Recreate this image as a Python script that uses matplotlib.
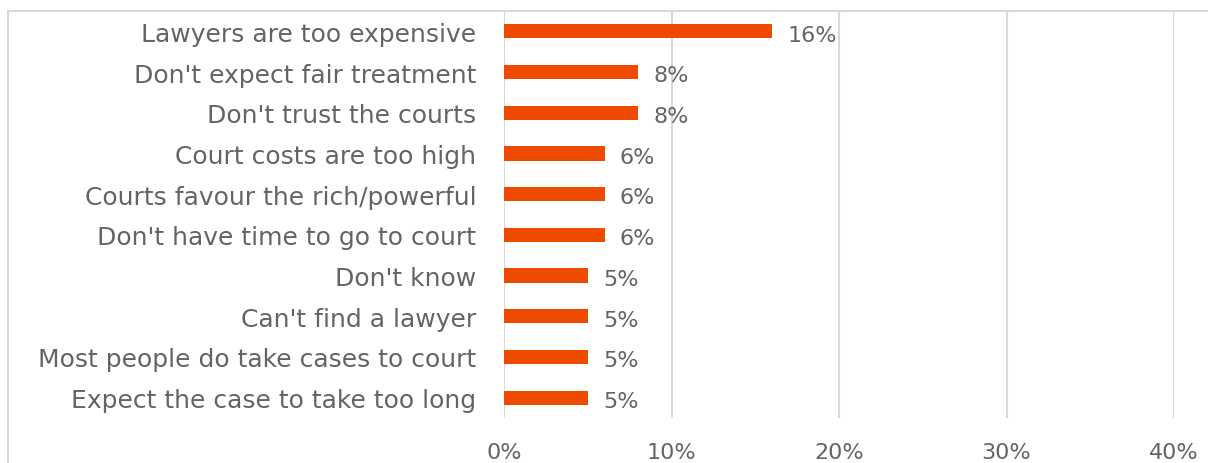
import matplotlib.pyplot as plt
from matplotlib.patches import Rectangle

plt.rcParams['font.family'] = ['DejaVu Sans']

# data (top to bottom)
categories = [
    "Lawyers are too expensive",
    "Don't expect fair treatment",
    "Don't trust the courts",
    "Court costs are too high",
    "Courts favour the rich/powerful",
    "Don't have time to go to court",
    "Don't know",
    "Can't find a lawyer",
    "Most people do take cases to court",
    "Expect the case to take too long",
]
values = [16, 8, 8, 6, 6, 6, 5, 5, 5, 5]
xticks = [0, 10, 20, 30, 40]
xtick_labels = ["0%", "10%", "20%", "30%", "40%"]

text_color = '#646464'
bar_color = '#EE4B00'
grid_color = '#D9D9D9'

fig = plt.figure(figsize=(12.08, 4.64), dpi=100)
ax = fig.add_axes([504 / 1208, 1 - 419 / 464, (1174 - 504) / 1208, (419 - 12) / 464])

# chart border (cropped box)
fig.patches.append(Rectangle((8 / 1208, -0.2), 1.2, 1.2 - 12 / 464,
                             transform=fig.transFigure, fill=False,
                             edgecolor=grid_color, linewidth=1.5, zorder=0))

y = list(range(len(categories)))
ax.barh(y, values, height=0.35, color=bar_color, zorder=3)
for yi, v in zip(y, values):
    ax.text(v + 0.9, yi + 0.08, f"{v}%", va='center', ha='left',
            fontsize=16, color=text_color)

ax.set_ylim(len(categories) - 0.5, -0.5)
ax.set_xlim(0, 40)
ax.set_yticks(y)
ax.set_yticklabels(categories, fontsize=18, color=text_color)
ax.set_xticks(xticks)
ax.set_xticklabels(xtick_labels, fontsize=16, color=text_color)
ax.tick_params(axis='y', length=0, pad=20)
ax.tick_params(axis='x', length=0, pad=17)
ax.grid(axis='x', color=grid_color, linewidth=1.5, zorder=0)
ax.set_axisbelow(True)
for s in ax.spines.values():
    s.set_visible(False)

fig.savefig('out.png', dpi=100)
